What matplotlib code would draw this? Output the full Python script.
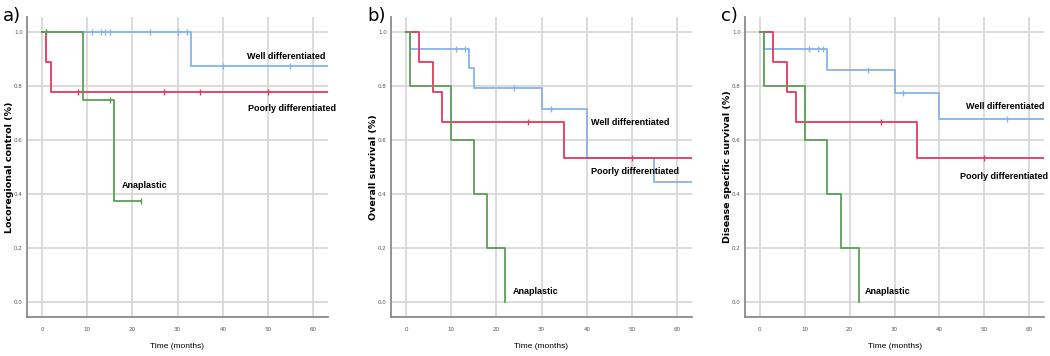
import numpy as np
import matplotlib
matplotlib.use("Agg")
import matplotlib.pyplot as plt

# ---- data ----
# a) locoregional control
a_well_t = [0, 33, 63.3]
a_well_s = [1.0, 0.875, 0.875]
a_well_cens = [1, 11, 13, 14, 15, 24, 30, 32, 40, 55]
a_poor_t = [0, 1, 2, 63.3]
a_poor_s = [1.0, 0.889, 0.778, 0.778]
a_poor_cens = [8, 27, 35, 50]
a_ana_t = [0, 9, 16, 22]
a_ana_s = [1.0, 0.75, 0.375, 0.375]
a_ana_cens = [1, 15, 22]

# b) overall survival
b_well_t = [0, 1, 14, 15, 30, 40, 55, 63.3]
b_well_s = [1.0, 0.9375, 0.866, 0.794, 0.714, 0.535, 0.446, 0.446]
b_well_cens = [11, 13, 24, 32]
b_poor_t = [0, 3, 6, 8, 35, 63.3]
b_poor_s = [1.0, 0.889, 0.778, 0.667, 0.533, 0.533]
b_poor_cens = [27, 50]
b_ana_t = [0, 1, 10, 15, 18, 22]
b_ana_s = [1.0, 0.8, 0.6, 0.4, 0.2, 0.0]
b_ana_cens = []

# c) disease specific survival
c_well_t = [0, 1, 15, 30, 40, 63.3]
c_well_s = [1.0, 0.9375, 0.859, 0.773, 0.677, 0.677]
c_well_cens = [11, 13, 14, 24, 32, 55]
c_poor_t = [0, 3, 6, 8, 35, 63.3]
c_poor_s = [1.0, 0.889, 0.778, 0.667, 0.533, 0.533]
c_poor_cens = [27, 50]
c_ana_t = [0, 1, 10, 15, 18, 22]
c_ana_s = [1.0, 0.8, 0.6, 0.4, 0.2, 0.0]
c_ana_cens = []

panels = ["a)", "b)", "c)"]
ylabels = ["Locoregional control (%)", "Overall survival (%)",
           "Disease specific survival (%)"]
xticks = [0, 10, 20, 30, 40, 50, 60]
yticks = [0.0, 0.2, 0.4, 0.6, 0.8, 1.0]

BLUE = "#86b4ea"
RED = "#e5385c"
GREEN = "#5c9f55"

sans = ["Liberation Sans", "DejaVu Sans"]


def surv_at(t, times, surv):
    i = np.searchsorted(times, t, side="right") - 1
    return surv[max(i, 0)]


def km(ax, times, surv, cens, color):
    ax.step(times, surv, where="post", color=color, lw=1.3, zorder=3)
    if cens:
        ys = [surv_at(c, times, surv) for c in cens]
        ax.plot(cens, ys, ls="none", marker="|", ms=4, mew=1.0,
                color=color, zorder=4)


fig = plt.figure(figsize=(10.5, 3.56), dpi=100)
W, H = 1050, 356
lefts = [27, 391, 745]
widths = [301, 301, 299]

curves = [
    [(a_well_t, a_well_s, a_well_cens, BLUE), (a_poor_t, a_poor_s, a_poor_cens, RED),
     (a_ana_t, a_ana_s, a_ana_cens, GREEN)],
    [(b_well_t, b_well_s, b_well_cens, BLUE), (b_poor_t, b_poor_s, b_poor_cens, RED),
     (b_ana_t, b_ana_s, b_ana_cens, GREEN)],
    [(c_well_t, c_well_s, c_well_cens, BLUE), (c_poor_t, c_poor_s, c_poor_cens, RED),
     (c_ana_t, c_ana_s, c_ana_cens, GREEN)],
]

# label positions in data coords (left edge, vertical centre)
labpos = [
    [(45.4, 0.91), (45.6, 0.715), (17.6, 0.43)],
    [(41.0, 0.665), (41.0, 0.485), (23.6, 0.04)],
    [(46.0, 0.725), (44.5, 0.465), (23.3, 0.04)],
]
names = ["Well differentiated", "Poorly differentiated", "Anaplastic"]

for k in range(3):
    ax = fig.add_axes([lefts[k] / W, (H - 317) / H, widths[k] / W, 300 / H])
    ax.set_xlim(-3.3, 63.3)
    ax.set_ylim(-0.056, 1.056)
    ax.set_xticks(xticks)
    ax.set_yticks(yticks)
    ax.set_xticklabels([str(v) for v in xticks])
    ax.set_yticklabels(["%.1f" % v for v in yticks])
    ax.tick_params(length=0, labelsize=4, colors="#555555")
    ax.tick_params(axis="y", pad=3)
    ax.tick_params(axis="x", pad=7)
    ax.grid(True, color="#d8d8d8", lw=1.3, zorder=0)
    ax.set_axisbelow(True)
    for s in ["top", "right"]:
        ax.spines[s].set_visible(False)
    for s in ["left", "bottom"]:
        ax.spines[s].set_color("#8a8a8a")
        ax.spines[s].set_linewidth(1.3)

    for times, surv, cens, col in curves[k]:
        km(ax, times, surv, cens, col)

    for (x, y), name in zip(labpos[k], names):
        ax.text(x, y, name, fontsize=6.5, fontweight="bold", family=sans,
                ha="left", va="center", color="black")

    ax.set_xlabel("Time (months)", fontsize=6, family=sans)
    ax.xaxis.set_label_coords(0.5, -(347 - 317) / 300)
    ax.xaxis.label.set_va("center")
    ax.set_ylabel(ylabels[k], fontsize=6.8, fontweight="bold")
    ax.yaxis.set_label_coords(-17.5 / 300, 0.5)
    ax.yaxis.label.set_va("center")

    fig.text((lefts[k] - 24) / W, 1 - 16 / H, panels[k], fontsize=13,
             ha="left", va="center")

fig.savefig("out.png", dpi=100)
